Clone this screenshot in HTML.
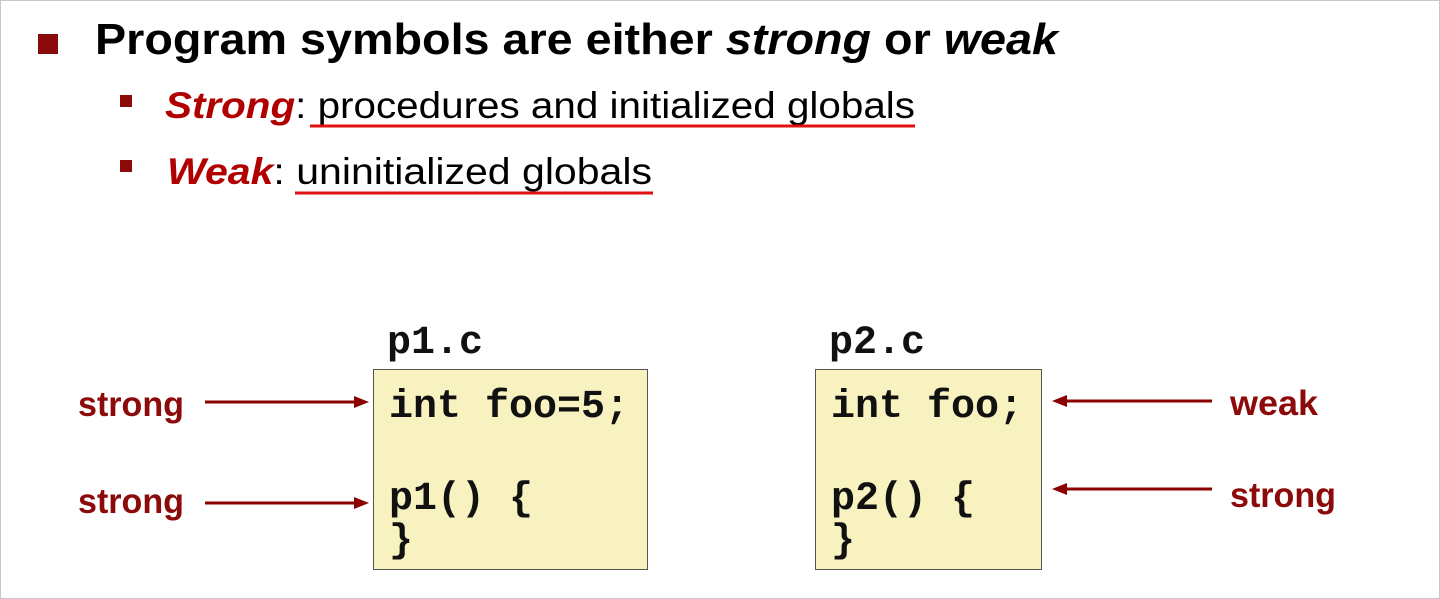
<!DOCTYPE html>
<html><head><meta charset="utf-8"><style>
html,body{margin:0;padding:0;background:#fff;}
svg{display:block;}
</style></head><body>
<svg width="1440" height="599" viewBox="0 0 1440 599" xmlns="http://www.w3.org/2000/svg">
<rect x="0.5" y="0.5" width="1439" height="598" fill="#fff" stroke="#c8c8c8"/>
<rect x="38" y="34" width="20" height="20" fill="#8b0a0a"/>
<text x="95" y="54" font-family="Liberation Sans, sans-serif" font-weight="bold" font-size="44" fill="#000" textLength="963" lengthAdjust="spacingAndGlyphs">Program symbols are either <tspan font-style="italic">strong</tspan> or <tspan font-style="italic">weak</tspan></text>
<rect x="120" y="95" width="12" height="12" fill="#8b0a0a"/>
<rect x="120" y="160" width="12" height="12" fill="#8b0a0a"/>
<text x="165" y="118" font-family="Liberation Sans, sans-serif" font-size="37" fill="#000" textLength="750" lengthAdjust="spacingAndGlyphs"><tspan font-weight="bold" font-style="italic" fill="#b00000">Strong</tspan>: procedures and initialized globals</text>
<line x1="310" y1="126" x2="915" y2="126" stroke="#e01010" stroke-width="3"/>
<text x="167" y="184" font-family="Liberation Sans, sans-serif" font-size="37" fill="#000" textLength="485" lengthAdjust="spacingAndGlyphs"><tspan font-weight="bold" font-style="italic" fill="#b00000">Weak</tspan>: uninitialized globals</text>
<line x1="295" y1="193" x2="653" y2="193" stroke="#e01010" stroke-width="3"/>

<rect x="373.5" y="369.5" width="274" height="200" fill="#f7f2c0" stroke="#555" stroke-width="1"/>
<rect x="815.5" y="369.5" width="226" height="200" fill="#f7f2c0" stroke="#555" stroke-width="1"/>
<g font-family="Liberation Mono, monospace" font-weight="bold" font-size="40" fill="#111">
<text x="387" y="353">p1.c</text>
<text x="829" y="353">p2.c</text>
<text x="389" y="417">int foo=5;</text>
<text x="389" y="509">p1() {</text>
<text x="389" y="551">}</text>
<text x="831" y="417">int foo;</text>
<text x="831" y="509">p2() {</text>
<text x="831" y="551">}</text>
</g>
<g font-family="Liberation Sans, sans-serif" font-weight="bold" font-size="35" fill="#8c0a0a">
<text x="78" y="416" textLength="106" lengthAdjust="spacingAndGlyphs">strong</text>
<text x="78" y="513" textLength="106" lengthAdjust="spacingAndGlyphs">strong</text>
<text x="1230" y="415" textLength="88" lengthAdjust="spacingAndGlyphs">weak</text>
<text x="1230" y="507" textLength="106" lengthAdjust="spacingAndGlyphs">strong</text>
</g>
<g stroke="#8b0000" stroke-width="3" fill="#8b0000">
<line x1="205" y1="402" x2="356" y2="402"/><polygon points="369,402 354,396 354,408" stroke="none"/>
<line x1="205" y1="503" x2="356" y2="503"/><polygon points="369,503 354,497 354,509" stroke="none"/>
<line x1="1212" y1="401" x2="1065" y2="401"/><polygon points="1052,401 1067,395 1067,407" stroke="none"/>
<line x1="1212" y1="489" x2="1065" y2="489"/><polygon points="1052,489 1067,483 1067,495" stroke="none"/>
</g>
</svg>
</body></html>
